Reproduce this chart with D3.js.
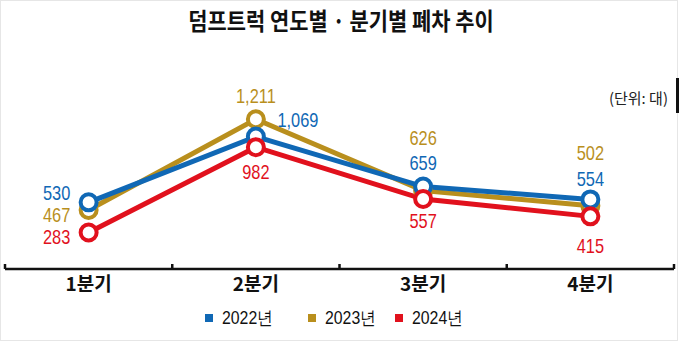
<!DOCTYPE html>
<html><head><meta charset="utf-8">
<script src="https://cdn.jsdelivr.net/npm/d3@7"></script>
<style>
html,body{margin:0;padding:0;background:#fff;}
svg{display:block;}
</style></head>
<body>
<svg id="chart" width="680" height="342"></svg>
<script>
const categories = ["1분기", "2분기", "3분기", "4분기"];
const seriesNames = ["2022년", "2023년", "2024년"];
const values2022 = [530, 1069, 659, 554];
const values2023 = [467, 1211, 626, 502];
const values2024 = [283, 982, 557, 415];
const titleText = "덤프트럭 연도별 · 분기별 폐차 추이";
const unitText = "(단위: 대)";

const colors = ["#1068b5", "#b98f1d", "#e1111d"];
const series = [values2022, values2023, values2024].map((v, i) => ({name: seriesNames[i], values: v, color: colors[i]}));

// label offsets [dx, dy] per series per category (layout only)
const labelOffsets = [
  [[-32, -10], [42, -17], [0, -24], [0, -21]],
  [[-32, 5], [0, -23], [0, -53], [0, -53]],
  [[-32, 4], [0, 25], [0, 22], [0, 29]]
];

const svg = d3.select("#chart");
const numFont = "'Liberation Sans', Arial, sans-serif";
const korFont = "'Noto Sans CJK KR', 'Noto Sans', sans-serif";
const condensed = 0.82;

// frame
svg.append("rect").attr("x", 0.5).attr("y", 0.5).attr("width", 677).attr("height", 340)
  .attr("fill", "none").attr("stroke", "#e6e6e6").attr("stroke-width", 1);

const x = d3.scaleBand().domain(categories).range([5, 674]);
const y = d3.scaleLinear().domain([0, 2000]).range([267, 23]);
const cx = c => x(c) + x.bandwidth() / 2;

// title
svg.append("text").attr("transform", "translate(341,30) scale(0.95,1.1)").attr("text-anchor", "middle")
  .attr("font-family", korFont).attr("font-weight", "bold").attr("font-size", 22)
  .attr("fill", "#111").text(titleText);

// unit
svg.append("text").attr("x", 668).attr("y", 104).attr("text-anchor", "end")
  .attr("font-family", korFont).attr("font-size", 15).attr("fill", "#222").text(unitText);
svg.append("rect").attr("x", 676).attr("y", 78).attr("width", 3).attr("height", 35).attr("fill", "#111");

// axis
const axisG = svg.append("g").attr("transform", "translate(0,269)");
const axis = d3.axisBottom(x).tickSize(0).tickPadding(8);
axisG.call(axis);
axisG.select(".domain").remove();
axisG.append("line").attr("x1", 5).attr("x2", 674).attr("y1", 0).attr("y2", 0)
  .attr("stroke", "#111").attr("stroke-width", 2.5);
const tickXs = [x.range()[0]].concat(categories.map(c => x(c) + x.bandwidth()));
axisG.selectAll("line.tk").data(tickXs).enter().append("line").attr("class", "tk")
  .attr("x1", d => d).attr("x2", d => d).attr("y1", -5).attr("y2", 0)
  .attr("stroke", "#111").attr("stroke-width", 2.5);
axisG.selectAll(".tick text").attr("font-family", korFont).attr("font-weight", "bold")
  .attr("font-size", 19).attr("fill", "#111").attr("dy", "0.75em");

// lines (draw 2023 first, then 2022, then 2024 on top)
const line = d3.line().x((d, i) => cx(categories[i])).y(d => y(d));
const order = [1, 0, 2];
order.forEach(si => {
  const s = series[si];
  svg.append("path").datum(s.values).attr("d", line).attr("fill", "none")
    .attr("stroke", s.color).attr("stroke-width", 5).attr("stroke-linejoin", "miter");
});
order.forEach(si => {
  const s = series[si];
  svg.selectAll(null).data(s.values).enter().append("circle")
    .attr("cx", (d, i) => cx(categories[i])).attr("cy", d => y(d)).attr("r", 8)
    .attr("fill", "#fff").attr("stroke", s.color).attr("stroke-width", 4);
});

// labels
series.forEach((s, si) => {
  svg.selectAll(null).data(s.values).enter().append("text")
    .attr("transform", (d, i) => `translate(${cx(categories[i]) + labelOffsets[si][i][0]},${y(d) + labelOffsets[si][i][1]}) scale(${condensed},1)`)
    .attr("dy", "0.36em").attr("text-anchor", "middle")
    .attr("font-family", numFont).attr("font-size", 20).attr("fill", s.color)
    .text(d => d3.format(",")(d));
});

// legend
const legendX = [205, 308, 395];
series.forEach((s, i) => {
  const g = svg.append("g").attr("transform", `translate(${legendX[i]},314)`);
  g.append("rect").attr("width", 8).attr("height", 8).attr("fill", s.color);
  g.append("text").attr("transform", `translate(17,4) scale(0.88,1)`).attr("dy", "0.36em")
    .attr("font-family", numFont).attr("font-size", 18).attr("fill", "#111").text(s.name);
});
</script>
</body></html>
